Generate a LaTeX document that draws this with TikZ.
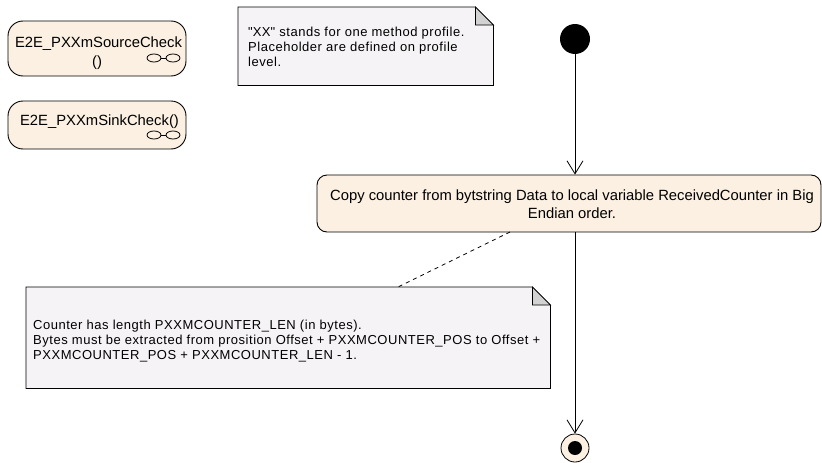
\documentclass[tikz,border=0pt]{standalone}
\usepackage{fontspec}
\setmainfont{Liberation Sans}
\newfontfamily\notefont[LetterSpace=4]{Liberation Sans}
\usetikzlibrary{arrows.meta,calc}
\definecolor{cream}{RGB}{251,240,225}
\definecolor{notefill}{RGB}{246,243,246}
\definecolor{foldgray}{RGB}{210,210,210}
\begin{document}
\begin{tikzpicture}[x=1pt,y=-1pt,
  actbox/.style={draw, line width=0.9pt, fill=cream, inner sep=0pt},
  boxtext/.style={inner sep=0pt, font=\fontsize{14.8}{18}\selectfont},
  notetext/.style={inner sep=0pt, align=left, font=\notefont\fontsize{13}{15}\selectfont},
  noteshape/.style={draw, line width=0.7pt, fill=notefill},
  foldshape/.style={draw, line width=0.7pt, fill=foldgray},
  flow/.style={line width=0.8pt, -{Straight Barb[length=13pt,width=16pt,line width=0.8pt]}},
  calllink/.pic={
    \draw[line width=0.8pt] (-9.5,0) ellipse (7 and 4);
    \draw[line width=0.8pt] (9.5,0) ellipse (7 and 4);
    \draw[line width=0.8pt] (-2.5,0) -- (2.5,0);
  }]
\useasboundingbox (0,0) rectangle (822,463);

% call behaviour boxes
\node[actbox, rounded corners=15pt, minimum width=178pt, minimum height=55pt] (src) at (97,48.5) {};
\node[boxtext, anchor=base] (srct) at (98.5,47) {E2E\_PXXmSourceCheck};
\node[boxtext, anchor=base] (srcp) at (97,66) {()};
\pic at (163.5,58) {calllink};

\node[actbox, rounded corners=15pt, minimum width=178pt, minimum height=48pt] (snk) at (97,125) {};
\node[boxtext, anchor=base] (snkt) at (99.5,125) {E2E\_PXXmSinkCheck()};
\pic at (163.5,135) {calllink};

% note 1
\node[inner sep=0pt, minimum width=255pt, minimum height=78pt, anchor=north west] (n1) at (238,7) {};
\draw[noteshape] (n1.north west) -- ($(n1.north east)+(-18,0)$) -- ($(n1.north east)+(0,18)$) -- (n1.south east) -- (n1.south west) -- cycle;
\draw[foldshape] ($(n1.north east)+(-18,0)$) -- ($(n1.north east)+(-18,18)$) -- ($(n1.north east)+(0,18)$) -- cycle;
\node[notetext, anchor=north west] (n1t) at (248,27) {\textquotedbl XX\textquotedbl\ stands for one method profile.\\Placeholder are defined on profile\\level.};

% initial node
\node[circle, fill=black, minimum size=30pt, inner sep=0pt] (init) at (575,39) {};

% action
\node[actbox, rounded corners=10pt, minimum width=504pt, minimum height=57pt] (act) at (569,203.5) {};
\node[boxtext, align=center, anchor=north] (actt) at (572,190) {Copy counter from bytstring Data to local variable ReceivedCounter in Big\\Endian order.};

% note 2
\node[inner sep=0pt, minimum width=524pt, minimum height=101pt, anchor=north west] (n2) at (26,287) {};
\draw[noteshape] (n2.north west) -- ($(n2.north east)+(-18,0)$) -- ($(n2.north east)+(0,18)$) -- (n2.south east) -- (n2.south west) -- cycle;
\draw[foldshape] ($(n2.north east)+(-18,0)$) -- ($(n2.north east)+(-18,18)$) -- ($(n2.north east)+(0,18)$) -- cycle;
\node[notetext, anchor=north west] (n2t) at (33,320) {Counter has length PXXMCOUNTER\_LEN (in bytes).\\Bytes must be extracted from prosition Offset + PXXMCOUNTER\_POS to Offset +\\PXXMCOUNTER\_POS + PXXMCOUNTER\_LEN - 1.};

% final node
\node[circle, draw, line width=0.8pt, fill=cream, minimum size=28pt, inner sep=0pt] (fin) at (575,448) {};
\node[circle, fill=black, minimum size=14pt, inner sep=0pt] (finin) at (fin.center) {};

% connectors
\draw[flow] (init) -- (init |- act.north);
\draw[flow] (fin |- act.south) -- (fin);
\coordinate (dA) at (510,232);
\coordinate (dB) at (398,287);
\draw[line width=0.8pt, dash pattern=on 4pt off 4pt] (dA) -- (dB);
\end{tikzpicture}
\end{document}
